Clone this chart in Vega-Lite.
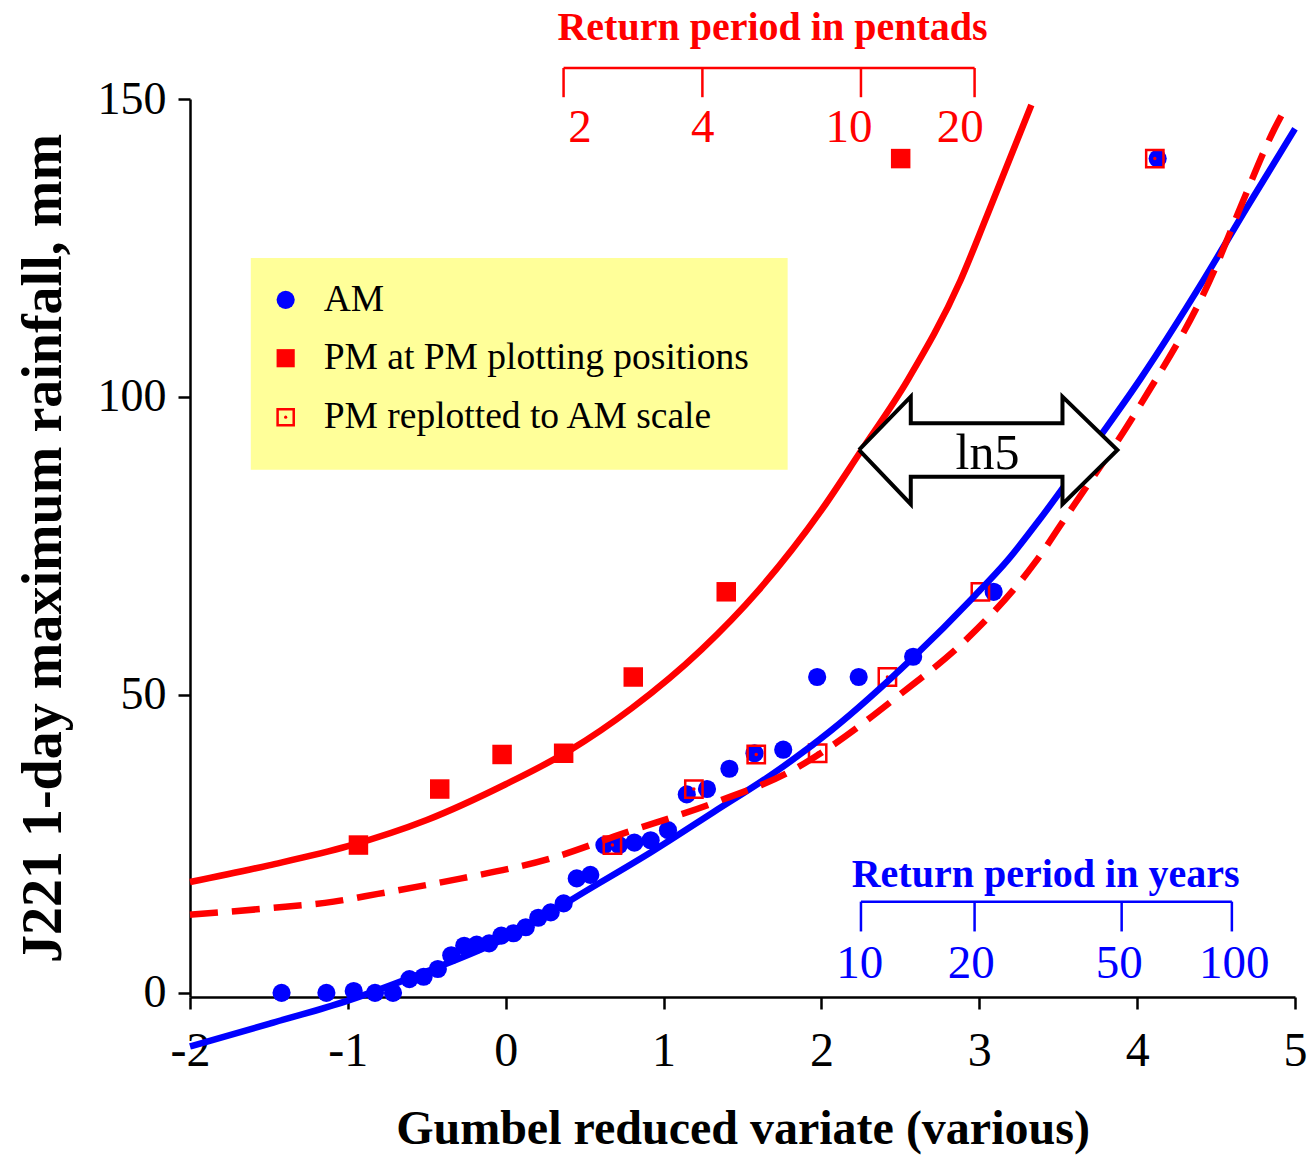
{
  "$schema": "https://vega.github.io/schema/vega-lite/v6.json",
  "width": 1105,
  "height": 898,
  "autosize": {"type": "none"},
  "padding": {"left": 190, "top": 99, "right": 13, "bottom": 158},
  "background": "white",
  "config": {"view": {"stroke": null}, "font": "Liberation Serif"},
  "data": {"values": [{"one": 1}]},
  "datasets": {
    "am": [
      {"x": -1.42, "y": 0}, {"x": -1.136, "y": 0}, {"x": -0.963, "y": 0.3}, {"x": -0.828, "y": 0},
      {"x": -0.714, "y": 0}, {"x": -0.61, "y": 2.3}, {"x": -0.52, "y": 2.7}, {"x": -0.43, "y": 4.0},
      {"x": -0.345, "y": 6.3}, {"x": -0.263, "y": 7.9}, {"x": -0.184, "y": 8.1}, {"x": -0.105, "y": 8.3},
      {"x": -0.028, "y": 9.6}, {"x": 0.05, "y": 10.0}, {"x": 0.127, "y": 11.0}, {"x": 0.206, "y": 12.6},
      {"x": 0.285, "y": 13.5}, {"x": 0.367, "y": 15.0}, {"x": 0.45, "y": 19.2}, {"x": 0.536, "y": 19.8},
      {"x": 0.625, "y": 24.8}, {"x": 0.718, "y": 24.8}, {"x": 0.815, "y": 25.2}, {"x": 0.918, "y": 25.6},
      {"x": 1.028, "y": 27.3}, {"x": 1.147, "y": 33.3}, {"x": 1.275, "y": 34.2}, {"x": 1.417, "y": 37.6},
      {"x": 1.576, "y": 40.2}, {"x": 1.758, "y": 40.8}, {"x": 1.973, "y": 53.0}, {"x": 2.236, "y": 53.0},
      {"x": 2.581, "y": 56.4}, {"x": 3.091, "y": 67.3}, {"x": 4.13, "y": 140.0}
    ],
    "pm": [
      {"x": -0.933, "y": 24.8}, {"x": -0.418, "y": 34.2}, {"x": -0.023, "y": 40.0}, {"x": 0.367, "y": 40.2},
      {"x": 0.808, "y": 53.0}, {"x": 1.397, "y": 67.3}, {"x": 2.502, "y": 140.0}
    ],
    "pmr": [
      {"x": 0.676, "y": 24.8}, {"x": 1.192, "y": 34.2}, {"x": 1.587, "y": 40.0}, {"x": 1.976, "y": 40.2},
      {"x": 2.418, "y": 53.0}, {"x": 3.007, "y": 67.3}, {"x": 4.112, "y": 140.0}
    ],
    "fitAM": [
      {"x": -2.0, "y": -9.0}, {"x": -1.5, "y": -5.2}, {"x": -1.0, "y": -1.3}, {"x": -0.5, "y": 3.6},
      {"x": 0.0, "y": 9.2}, {"x": 0.54, "y": 17.6}, {"x": 0.92, "y": 23.6}, {"x": 1.32, "y": 30.4},
      {"x": 1.7, "y": 36.9}, {"x": 2.06, "y": 44.0}, {"x": 2.57, "y": 56.0}, {"x": 2.97, "y": 66.6},
      {"x": 3.18, "y": 72.6}, {"x": 3.37, "y": 79.0}, {"x": 3.7, "y": 91.0}, {"x": 4.02, "y": 103.0},
      {"x": 4.42, "y": 119.6}, {"x": 4.7, "y": 132.0}, {"x": 5.0, "y": 145.0}
    ],
    "fitPM": [
      {"x": -2.0, "y": 18.6}, {"x": -1.5, "y": 21.4}, {"x": -1.0, "y": 24.6}, {"x": -0.5, "y": 29.0},
      {"x": 0.0, "y": 35.0}, {"x": 0.4, "y": 40.6}, {"x": 0.8, "y": 47.8}, {"x": 1.24, "y": 57.6},
      {"x": 1.6, "y": 67.5}, {"x": 2.0, "y": 81.0}, {"x": 2.24, "y": 90.5}, {"x": 2.55, "y": 103.0},
      {"x": 2.88, "y": 119.5}, {"x": 3.05, "y": 130.5}, {"x": 3.33, "y": 149.0}
    ],
    "fitPMr": [
      {"x": -2.0, "y": 13.1}, {"x": -1.5, "y": 14.2}, {"x": -1.09, "y": 15.3}, {"x": -0.81, "y": 16.6},
      {"x": -0.54, "y": 17.9}, {"x": -0.28, "y": 19.2}, {"x": 0.29, "y": 22.6}, {"x": 0.75, "y": 26.8},
      {"x": 1.32, "y": 31.9}, {"x": 1.82, "y": 37.4}, {"x": 2.04, "y": 41.0}, {"x": 2.48, "y": 49.7},
      {"x": 2.93, "y": 59.6}, {"x": 3.35, "y": 72.1}, {"x": 3.56, "y": 80.3}, {"x": 4.0, "y": 97.8},
      {"x": 4.49, "y": 121.3}, {"x": 4.64, "y": 130.9}, {"x": 4.87, "y": 145.0}, {"x": 4.95, "y": 149.0}
    ],
    "arrow": [
      {"o": 1, "x": 2.238, "y": 91.1},
      {"o": 2, "x": 2.566, "y": 100.05},
      {"o": 3, "x": 2.566, "y": 95.6},
      {"o": 4, "x": 3.527, "y": 95.6},
      {"o": 5, "x": 3.527, "y": 100.05},
      {"o": 6, "x": 3.875, "y": 91.1},
      {"o": 7, "x": 3.527, "y": 82.0},
      {"o": 8, "x": 3.527, "y": 86.6},
      {"o": 9, "x": 2.566, "y": 86.6},
      {"o": 10, "x": 2.566, "y": 82.0},
      {"o": 11, "x": 2.238, "y": 91.1}
    ],
    "pent": [
      {"x": 0.3665, "lx": 0.47, "label": "2"},
      {"x": 1.2459, "lx": 1.248, "label": "4"},
      {"x": 2.2504, "lx": 2.175, "label": "10"},
      {"x": 2.9702, "lx": 2.88, "label": "20"}
    ],
    "years": [
      {"x": 2.2504, "lx": 2.243, "label": "10"},
      {"x": 2.9702, "lx": 2.949, "label": "20"},
      {"x": 3.9019, "lx": 3.886, "label": "50"},
      {"x": 4.6001, "lx": 4.615, "label": "100"}
    ],
    "legend": [
      {"x": -1.394, "tx": -1.153, "y": 116.3, "label": "AM"},
      {"x": -1.394, "tx": -1.153, "y": 106.5, "label": "PM at PM plotting positions"},
      {"x": -1.394, "tx": -1.153, "y": 96.6, "label": "PM replotted to AM scale"}
    ]
  },
  "layer": [
    {
      "data": {"name": "am"},
      "mark": {"type": "point", "shape": "circle", "filled": true, "color": "#0000FF", "size": 330, "opacity": 1},
      "encoding": {
        "x": {"field": "x", "type": "quantitative", "scale": {"domain": [-2, 5], "nice": false, "zero": false},
          "axis": {
            "values": [-2, -1, 0, 1, 2, 3, 4, 5],
            "labelExpr": "datum.value + ''",
            "title": "Gumbel reduced variate (various)",
            "titleFont": "Liberation Serif", "titleFontSize": 48, "titleFontWeight": "bold", "titleColor": "black",
            "titlePadding": 30,
            "labelFont": "Liberation Serif", "labelFontSize": 48, "labelColor": "black", "labelPadding": 18,
            "labelFlush": false, "labelOverlap": false,
            "tickSize": 12, "tickWidth": 2.5, "tickColor": "black",
            "domainColor": "black", "domainWidth": 2.5, "grid": false
          }},
        "y": {"field": "y", "type": "quantitative", "scale": {"domain": [-0.7, 150], "nice": false, "zero": false},
          "axis": {
            "values": [0, 50, 100, 150],
            "title": "J221 1-day maximum rainfall, mm",
            "titleFont": "Liberation Serif", "titleFontSize": 56, "titleFontWeight": "bold", "titleColor": "black",
            "titlePadding": 25,
            "labelFont": "Liberation Serif", "labelFontSize": 46, "labelColor": "black", "labelPadding": 12,
            "labelFlush": false, "labelOverlap": false,
            "tickSize": 12, "tickWidth": 2.5, "tickColor": "black",
            "domainColor": "black", "domainWidth": 2.5, "grid": false
          }}
      }
    },
    {
      "mark": {"type": "rect", "fill": "#FFFF99"},
      "encoding": {
        "x": {"datum": -1.615, "type": "quantitative"},
        "x2": {"datum": 1.786},
        "y": {"datum": 123.3, "type": "quantitative"},
        "y2": {"datum": 87.8}
      }
    },
    {
      "data": {"name": "pm"},
      "mark": {"type": "point", "shape": "square", "filled": true, "color": "#FF0000", "size": 380, "opacity": 1},
      "encoding": {
        "x": {"field": "x", "type": "quantitative"},
        "y": {"field": "y", "type": "quantitative"}
      }
    },
    {
      "data": {"name": "pmr"},
      "mark": {"type": "point", "shape": "square", "filled": false, "stroke": "#FF0000", "strokeWidth": 2.5, "size": 300, "opacity": 1},
      "encoding": {
        "x": {"field": "x", "type": "quantitative"},
        "y": {"field": "y", "type": "quantitative"}
      }
    },
    {
      "data": {"name": "pmr"},
      "mark": {"type": "point", "shape": "circle", "filled": true, "color": "#FF0000", "size": 12, "opacity": 1},
      "encoding": {
        "x": {"field": "x", "type": "quantitative"},
        "y": {"field": "y", "type": "quantitative"}
      }
    },
    {
      "data": {"name": "fitAM"},
      "mark": {"type": "line", "color": "#0000FF", "strokeWidth": 6.5, "interpolate": "monotone"},
      "encoding": {
        "x": {"field": "x", "type": "quantitative"},
        "y": {"field": "y", "type": "quantitative"}
      }
    },
    {
      "data": {"name": "fitPMr"},
      "mark": {"type": "line", "color": "#FF0000", "strokeWidth": 6.5, "strokeDash": [28, 14], "interpolate": "monotone"},
      "encoding": {
        "x": {"field": "x", "type": "quantitative"},
        "y": {"field": "y", "type": "quantitative"}
      }
    },
    {
      "data": {"name": "fitPM"},
      "mark": {"type": "line", "color": "#FF0000", "strokeWidth": 6.5, "interpolate": "monotone"},
      "encoding": {
        "x": {"field": "x", "type": "quantitative"},
        "y": {"field": "y", "type": "quantitative"}
      }
    },
    {
      "data": {"name": "arrow"},
      "mark": {"type": "line", "fill": "white", "stroke": "black", "strokeWidth": 4, "strokeJoin": "miter", "interpolate": "linear"},
      "encoding": {
        "x": {"field": "x", "type": "quantitative"},
        "y": {"field": "y", "type": "quantitative"},
        "order": {"field": "o", "type": "quantitative"}
      }
    },
    {
      "mark": {"type": "text", "text": "ln5", "font": "Liberation Serif", "fontSize": 50, "color": "black", "align": "center", "baseline": "middle"},
      "encoding": {
        "x": {"datum": 3.052},
        "y": {"datum": 90.4}
      }
    },
    {
      "mark": {"type": "rule", "color": "#FF0000", "strokeWidth": 2.5},
      "encoding": {
        "x": {"datum": 0.3665}, "x2": {"datum": 2.9702},
        "y": {"datum": 155.2}
      }
    },
    {
      "data": {"name": "pent"},
      "mark": {"type": "rule", "color": "#FF0000", "strokeWidth": 2.5},
      "encoding": {
        "x": {"field": "x", "type": "quantitative"},
        "y": {"datum": 155.2},
        "y2": {"datum": 150.3}
      }
    },
    {
      "data": {"name": "pent"},
      "mark": {"type": "text", "font": "Liberation Serif", "fontSize": 47, "color": "#FF0000", "align": "center", "baseline": "middle"},
      "encoding": {
        "x": {"field": "lx", "type": "quantitative"},
        "y": {"datum": 145.1},
        "text": {"field": "label"}
      }
    },
    {
      "mark": {"type": "text", "text": "Return period in pentads", "font": "Liberation Serif", "fontSize": 40, "fontWeight": "bold", "color": "#FF0000", "align": "center", "baseline": "middle"},
      "encoding": {
        "x": {"datum": 1.69},
        "y": {"datum": 161.9}
      }
    },
    {
      "mark": {"type": "rule", "color": "#0000FF", "strokeWidth": 2.5},
      "encoding": {
        "x": {"datum": 2.2504}, "x2": {"datum": 4.6001},
        "y": {"datum": 15.3}
      }
    },
    {
      "data": {"name": "years"},
      "mark": {"type": "rule", "color": "#0000FF", "strokeWidth": 2.5},
      "encoding": {
        "x": {"field": "x", "type": "quantitative"},
        "y": {"datum": 15.3},
        "y2": {"datum": 10.3}
      }
    },
    {
      "data": {"name": "years"},
      "mark": {"type": "text", "font": "Liberation Serif", "fontSize": 47, "color": "#0000FF", "align": "center", "baseline": "middle"},
      "encoding": {
        "x": {"field": "lx", "type": "quantitative"},
        "y": {"datum": 4.8},
        "text": {"field": "label"}
      }
    },
    {
      "mark": {"type": "text", "text": "Return period in years", "font": "Liberation Serif", "fontSize": 40, "fontWeight": "bold", "color": "#0000FF", "align": "center", "baseline": "middle"},
      "encoding": {
        "x": {"datum": 3.42},
        "y": {"datum": 19.7}
      }
    },
    {
      "data": {"name": "legend"},
      "transform": [{"filter": "datum.label === 'AM'"}],
      "mark": {"type": "point", "shape": "circle", "filled": true, "color": "#0000FF", "size": 330, "opacity": 1},
      "encoding": {
        "x": {"field": "x", "type": "quantitative"},
        "y": {"field": "y", "type": "quantitative"}
      }
    },
    {
      "data": {"name": "legend"},
      "transform": [{"filter": "datum.label === 'PM at PM plotting positions'"}],
      "mark": {"type": "point", "shape": "square", "filled": true, "color": "#FF0000", "size": 330, "opacity": 1},
      "encoding": {
        "x": {"field": "x", "type": "quantitative"},
        "y": {"field": "y", "type": "quantitative"}
      }
    },
    {
      "data": {"name": "legend"},
      "transform": [{"filter": "datum.label === 'PM replotted to AM scale'"}],
      "mark": {"type": "point", "shape": "square", "filled": false, "stroke": "#FF0000", "strokeWidth": 2.5, "size": 260, "opacity": 1},
      "encoding": {
        "x": {"field": "x", "type": "quantitative"},
        "y": {"field": "y", "type": "quantitative"}
      }
    },
    {
      "data": {"name": "legend"},
      "transform": [{"filter": "datum.label === 'PM replotted to AM scale'"}],
      "mark": {"type": "point", "shape": "circle", "filled": true, "color": "#FF0000", "size": 10, "opacity": 1},
      "encoding": {
        "x": {"field": "x", "type": "quantitative"},
        "y": {"field": "y", "type": "quantitative"}
      }
    },
    {
      "data": {"name": "legend"},
      "mark": {"type": "text", "font": "Liberation Serif", "fontSize": 37.5, "color": "black", "align": "left", "baseline": "middle"},
      "encoding": {
        "x": {"field": "tx", "type": "quantitative"},
        "y": {"field": "y", "type": "quantitative"},
        "text": {"field": "label"}
      }
    }
  ]
}
